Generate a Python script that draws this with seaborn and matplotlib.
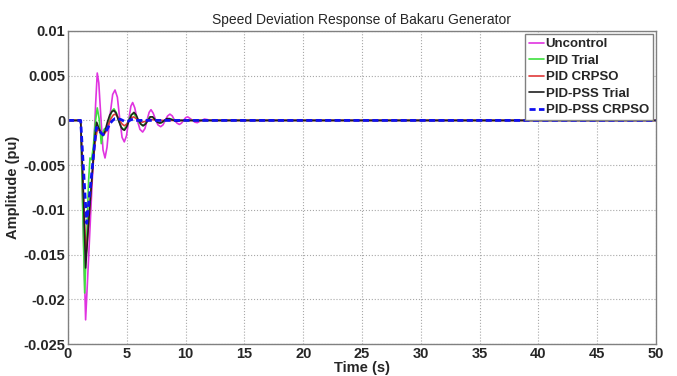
import numpy as np
import pandas as pd
import seaborn as sns
import matplotlib.pyplot as plt

# Speed deviation response of Bakaru generator

# Uncontrol
uc_t = [0, 1.08, 1.3, 1.5, 1.75, 2.0, 2.2, 2.35, 2.49, 2.62,
        2.8, 2.98, 3.15, 3.32, 3.55, 3.8, 4.0, 4.2, 4.4, 4.6,
        4.79, 4.98, 5.17, 5.35, 5.5, 5.68, 5.9, 6.12, 6.35, 6.55,
        6.72, 6.9, 7.06, 7.25, 7.47, 7.65, 7.88, 8.08, 8.27, 8.47,
        8.67, 8.87, 9.07, 9.27, 9.47, 9.65, 9.83, 10.0, 10.18, 10.4,
        10.6, 10.8, 11.0, 11.2, 11.4, 11.6, 11.8, 12.2, 13, 50]
uc_v = [0, 0, -0.012, -0.0223, -0.0155, -0.0085, -0.003, 0.0018, 0.0053, 0.0042,
        0.0003, -0.0033, -0.0042, -0.0030, 0.0003, 0.0029, 0.0034, 0.0026, 0.0002, -0.0019,
        -0.0024, -0.0017, 0.0001, 0.0016, 0.0020, 0.0014, 0.0, -0.0010, -0.0013, -0.0009,
        0.0, 0.0009, 0.0012, 0.0008, 0.0, -0.0005, -0.0007, -0.0005, 0.0, 0.0005,
        0.0007, 0.0005, 0.0, -0.0003, -0.00045, -0.0003, 0.0, 0.0003, 0.0004, 0.0002,
        0.0, -0.0002, -0.00025, -0.0001, 0.0, 0.00015, 0.0001, 0, 0, 0]

# PID Trial
pid_t = [0, 1.08, 1.42, 1.6, 1.75, 1.87, 2.0, 2.15, 2.3, 2.49,
         2.65, 2.83, 3.0, 3.12, 3.3, 3.5, 3.7, 3.91, 4.1, 4.3,
         4.55, 4.76, 4.95, 5.15, 5.35, 5.55, 5.75, 5.95, 6.15, 6.35,
         6.55, 6.75, 6.95, 7.15, 7.4, 7.65, 7.9, 8.15, 8.4, 8.65,
         8.9, 9.2, 9.5, 10.0, 13, 50]
pid_v = [0, 0, -0.0193, -0.013, -0.0068, -0.0042, -0.0044, -0.0030, -0.0005, 0.0014,
         0.0002, -0.0026, -0.0012, -0.0009, -0.0011, 0.0, 0.0010, 0.0013, 0.0009, 0.0,
         -0.0008, -0.0010, -0.0007, 0.0, 0.0006, 0.0008, 0.0005, 0.0, -0.0004, -0.0006,
         -0.0004, 0.0, 0.0004, 0.0004, 0.0001, -0.0002, -0.0003, -0.0001, 0.0001, 0.0002,
         0.0001, -0.0001, 0.0, 0, 0, 0]

# PID CRPSO
pidc_t = [0, 1.08, 1.3, 1.53, 1.7, 1.9, 2.1, 2.3, 2.5, 2.7,
          2.9, 3.05, 3.25, 3.45, 3.65, 3.85, 4.0, 4.2, 4.4, 4.6,
          4.8, 5.0, 5.2, 5.4, 5.6, 5.8, 6.0, 6.3, 6.6, 7.0,
          8.0, 13, 50]
pidc_v = [0, 0, -0.0075, -0.0152, -0.0125, -0.0090, -0.0055, -0.0025, -0.0010, -0.0012,
          -0.0015, -0.0016, -0.0012, -0.0004, 0.0002, 0.0006, 0.0007, 0.0005, 0.0, -0.0004,
          -0.0006, -0.0004, 0.0, 0.0003, 0.0004, 0.0002, 0.0, -0.0002, -0.0001, 0.0001,
          0, 0, 0]

# PID-PSS Trial
pss_t = [0, 1.08, 1.3, 1.5, 1.7, 1.9, 2.1, 2.3, 2.44, 2.6,
         2.8, 2.97, 3.15, 3.35, 3.55, 3.75, 3.91, 4.1, 4.3, 4.5,
         4.65, 4.8, 5.0, 5.2, 5.4, 5.61, 5.8, 6.0, 6.2, 6.4,
         6.6, 6.8, 7.0, 7.2, 7.4, 7.6, 7.8, 8.0, 8.2, 8.4,
         8.6, 8.8, 9.2, 9.6, 10.0, 13, 50]
pss_v = [0, 0, -0.008, -0.0165, -0.0125, -0.0088, -0.0052, -0.0018, -0.0002, -0.0008,
         -0.0014, -0.0017, -0.0012, -0.0002, 0.0006, 0.0010, 0.0011, 0.0008, 0.0, -0.0007,
         -0.0010, -0.0011, -0.0007, 0.0, 0.0006, 0.0009, 0.0006, 0.0, -0.0004, -0.0006,
         -0.0004, 0.0, 0.0004, 0.0004, 0.0001, -0.0002, -0.0003, -0.0002, 0.0, 0.0002,
         0.0002, 0.0001, -0.0001, 0.0, 0, 0, 0]

# PID-PSS CRPSO
pssc_t = [0, 1.08, 1.3, 1.59, 1.8, 2.0, 2.2, 2.41, 2.6, 2.8,
          3.0, 3.2, 3.4, 3.6, 3.8, 4.0, 4.2, 4.5, 4.8, 5.1,
          5.4, 5.8, 6.5, 13, 50]
pssc_v = [0, 0, -0.005, -0.0115, -0.0088, -0.0062, -0.0035, -0.0008, -0.0010, -0.0014,
          -0.0016, -0.0013, -0.0008, -0.0003, 0.0, 0.0002, 0.0002, 0.0001, -0.0001, -0.0001,
          0.0001, 0.0, 0.0, 0, 0]

labels = ['Uncontrol', 'PID Trial', 'PID CRPSO', 'PID-PSS Trial', 'PID-PSS CRPSO']
colors = ['#e033e0', '#3ee03e', '#e03a3a', '#202020', '#1010f0']

sns.set_style('white')
plt.rcParams['font.family'] = ['Liberation Sans', 'DejaVu Sans']

series = [(uc_t, uc_v), (pid_t, pid_v), (pidc_t, pidc_v), (pss_t, pss_v), (pssc_t, pssc_v)]

fig = plt.figure(figsize=(6.77, 3.76), dpi=100)
ax = fig.add_axes([0.1004, 0.0851, 0.8686, 0.8325])

for (t, v), lab, col in zip(series, labels, colors):
    df = pd.DataFrame({'t': t, 'v': v})
    if lab == 'PID-PSS CRPSO':
        sns.lineplot(data=df, x='t', y='v', ax=ax, color=col, lw=2.0,
                     label=lab, dashes=False, linestyle=(0, (2.2, 1.2)))
    else:
        sns.lineplot(data=df, x='t', y='v', ax=ax, color=col, lw=1.2, label=lab)

ax.set_xlim(0, 50)
ax.set_ylim(-0.025, 0.01)
ax.set_xticks(np.arange(0, 51, 5))
yt = [-0.025, -0.02, -0.015, -0.01, -0.005, 0, 0.005, 0.01]
ax.set_yticks(yt)
ax.set_yticklabels(['-0.025', '-0.02', '-0.015', '-0.01', '-0.005', '0', '0.005', '0.01'])
ax.grid(True, linestyle=':', color='#a8a8a8', lw=0.8)
for sp in ax.spines.values():
    sp.set_color('#808080')
    sp.set_linewidth(1.0)
ax.tick_params(direction='in', length=3, color='#808080', labelsize=10.5, pad=2)
for lbl in ax.get_xticklabels() + ax.get_yticklabels():
    lbl.set_fontweight('bold')

ax.set_title('Speed Deviation Response of Bakaru Generator', fontsize=10, pad=5)
ax.set_xlabel('Time (s)', fontsize=10.5, fontweight='bold', labelpad=0)
ax.set_ylabel('Amplitude (pu)', fontsize=10.5, fontweight='bold', labelpad=2)

ax.legend(loc='upper right', prop={'weight': 'bold', 'size': 9.5}, frameon=True,
          fancybox=False, edgecolor='#808080', borderaxespad=0.25, handlelength=1.1,
          handletextpad=0.15, labelspacing=0.32, borderpad=0.3, framealpha=1)

plt.savefig('out.png', dpi=100)
plt.close()
